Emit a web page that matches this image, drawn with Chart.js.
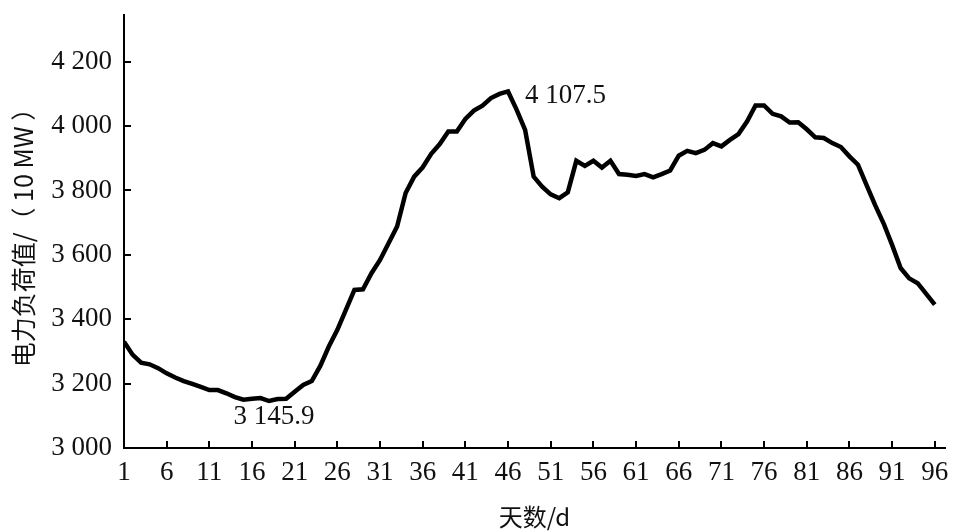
<!DOCTYPE html>
<html>
<head>
<meta charset="utf-8">
<script src="https://cdn.jsdelivr.net/npm/chart.js@4/dist/chart.umd.min.js"></script>
<style>
  html, body { margin: 0; padding: 0; background: #fff; }
  #wrap { width: 963px; height: 531px; }
</style>
</head>
<body>
<div id="wrap"><canvas id="myChart"></canvas></div>
<script>
// 每日电力负荷 (10 MW)
const days = []
for (let d = 1; d <= 96; d++) days.push(d)

const load = [
  3330, 3290, 3265, 3260, 3248, 3232, 3219, 3208, 3199, 3190,
  3180, 3180, 3170, 3158, 3150, 3153, 3155, 3145.9, 3152, 3153,
  3175, 3196, 3208, 3255, 3315, 3367, 3429, 3491, 3493, 3543,
  3584, 3636, 3688, 3792, 3843, 3872, 3914, 3944, 3983, 3983,
  4022, 4048, 4063, 4087, 4100, 4107.5, 4051, 3988, 3843, 3812,
  3788, 3776, 3794, 3892, 3876, 3892, 3871, 3892, 3851, 3849,
  3845, 3851, 3841, 3851, 3862, 3908, 3923, 3916, 3926, 3947,
  3937, 3957, 3975, 4014, 4064, 4064, 4038, 4030, 4011, 4012,
  3990, 3965, 3963, 3947, 3935, 3906, 3880, 3817, 3755, 3698,
  3631, 3559, 3527, 3512, 3479, 3445
]

const xTicks = [1, 6, 11, 16, 21, 26, 31, 36, 41, 46, 51, 56, 61, 66, 71, 76, 81, 86, 91, 96]
const yTicks = [3000, 3200, 3400, 3600, 3800, 4000, 4200]

const serif = '"Liberation Serif", "DejaVu Serif", serif'
const cjk = '"Noto Sans CJK SC", sans-serif'

function fmt(v) {
  let parts = String(v).split('.')
  parts[0] = parts[0].replace(/\B(?=(\d{3})+(?!\d))/g, ' ')
  return parts.join('.')
}

// 刻度线朝内 + 极值标注
const extras = {
  id: 'extras',
  afterDatasetsDraw(chart) {
    const ctx = chart.ctx
    const xs = chart.scales.x
    const ys = chart.scales.y
    const area = chart.chartArea
    ctx.save()
    ctx.strokeStyle = '#000'
    ctx.lineWidth = 2
    ctx.beginPath()
    xTicks.forEach(t => {
      const px = Math.round(xs.getPixelForValue(t))
      ctx.moveTo(px, area.bottom)
      ctx.lineTo(px, area.bottom - 7)
    })
    yTicks.forEach(t => {
      const py = Math.round(ys.getPixelForValue(t))
      ctx.moveTo(area.left, py)
      ctx.lineTo(area.left + 7, py)
    })
    ctx.stroke()

    const maxV = Math.max(...load)
    const minV = Math.min(...load)
    const iMax = load.indexOf(maxV)
    const iMin = load.indexOf(minV)
    ctx.fillStyle = '#111'
    ctx.font = '27px ' + serif
    ctx.textBaseline = 'middle'
    ctx.textAlign = 'left'
    ctx.fillText(fmt(maxV), xs.getPixelForValue(days[iMax]) + 17, ys.getPixelForValue(maxV) + 4)
    ctx.textAlign = 'center'
    ctx.fillText(fmt(minV), xs.getPixelForValue(days[iMin]) + 5, ys.getPixelForValue(minV) + 16)
    ctx.restore()
  }
}

const ctx = document.getElementById('myChart')

new Chart(ctx, {
  type: 'line',
  data: {
    datasets: [{
      data: days.map((d, i) => ({ x: d, y: load[i] })),
      borderColor: '#000',
      borderWidth: 4.5,
      pointRadius: 0,
      tension: 0,
      fill: false
    }]
  },
  options: {
    responsive: true,
    maintainAspectRatio: false,
    animation: false,
    layout: { padding: { left: 0, right: 18, top: 15, bottom: 0 } },
    plugins: {
      legend: { display: false },
      tooltip: { enabled: false }
    },
    scales: {
      x: {
        type: 'linear',
        min: 1,
        max: 97.2,
        afterBuildTicks: axis => { axis.ticks = xTicks.map(v => ({ value: v })) },
        afterFit: axis => { axis.height = 83; axis.paddingLeft = 0; axis.paddingRight = 0 },
        grid: { display: false },
        border: { display: true, color: '#000', width: 2 },
        ticks: {
          color: '#111',
          font: { family: serif, size: 27 },
          padding: 1,
          maxRotation: 0,
          autoSkip: false
        },
        title: {
          display: true,
          text: '天数/d',
          color: '#111',
          font: { family: cjk, size: 24 },
          padding: { top: 1, bottom: 0 }
        }
      },
      y: {
        min: 3000,
        max: 4345,
        afterBuildTicks: axis => { axis.ticks = yTicks.map(v => ({ value: v })) },
        afterFit: axis => { axis.width = 124; axis.paddingTop = 0; axis.paddingBottom = 0 },
        grid: { display: false },
        border: { display: true, color: '#000', width: 2 },
        ticks: {
          color: '#111',
          font: { family: serif, size: 27 },
          padding: 4,
          callback: v => fmt(v)
        },
        title: {
          display: true,
          text: '电力负荷值/（ 10 MW ）',
          color: '#111',
          font: { family: cjk, size: 25 },
          padding: { top: 8, bottom: 0 }
        }
      }
    }
  },
  plugins: [extras]
})
</script>
</body>
</html>
